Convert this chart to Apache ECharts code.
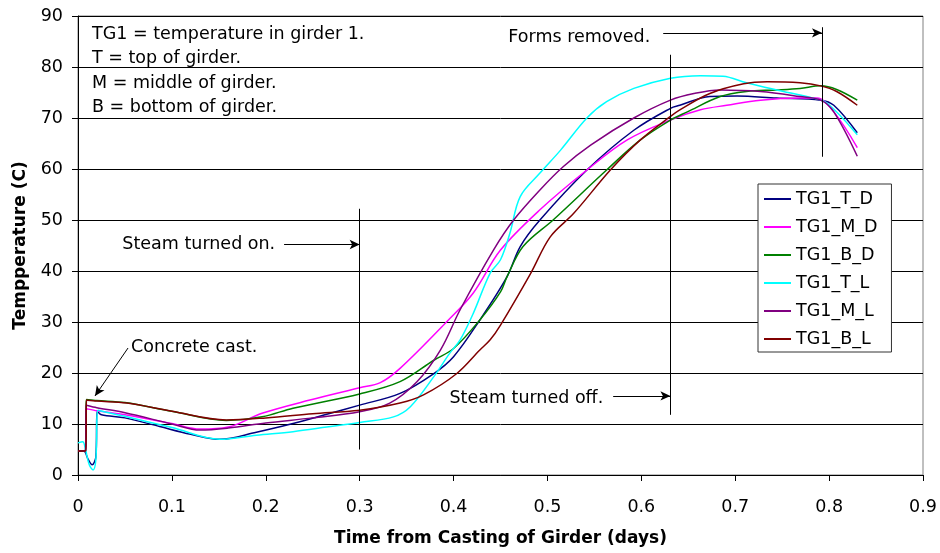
<!DOCTYPE html>
<html>
<head>
<meta charset="utf-8">
<script src="https://cdn.jsdelivr.net/npm/echarts@6/dist/echarts.min.js"></script>
<style>
  html, body { margin: 0; padding: 0; background: #fff; }
  #chart { width: 940px; height: 553px; }
</style>
</head>
<body>
<div id="chart"></div>
<script>
// Girder 1 temperatures, [days since casting, degrees C]
const seriesNames = ['TG1_T_D', 'TG1_M_D', 'TG1_B_D', 'TG1_T_L', 'TG1_M_L', 'TG1_B_L'];
const seriesColors = ['#000080', '#FF00FF', '#008000', '#00FFFF', '#800080', '#800000'];

const tg1TD = [[0,4.7],[0.006,4.7],[0.011,3],[0.015,2],[0.019,3.5],[0.0205,12.5],[0.025,11.8],[0.05,11.2],[0.087,9.5],[0.12,8.0],[0.151,7.0],[0.19,8.4],[0.229,10.1],[0.265,11.9],[0.3,13.7],[0.343,16.0],[0.379,19.9],[0.4,23.2],[0.428,30.4],[0.457,38.9],[0.471,44.8],[0.492,50],[0.542,59.8],[0.592,67.6],[0.631,71.9],[0.641,72.5],[0.673,74.2],[0.702,74.3],[0.744,73.9],[0.791,73.5],[0.805,72.5],[0.83,67.1]];
const tg1MD = [[0,4.7],[0.008,4.8],[0.009,13],[0.02,12.6],[0.05,11.8],[0.1,10.1],[0.13,9.0],[0.16,9.4],[0.196,12.1],[0.247,14.7],[0.3,17.1],[0.322,18.1],[0.343,20.9],[0.393,30.1],[0.421,35.7],[0.45,44.1],[0.492,52],[0.542,59.8],[0.585,65.7],[0.631,69.6],[0.663,71.6],[0.691,72.5],[0.727,73.5],[0.769,73.9],[0.787,73.9],[0.805,71.2],[0.83,64.2]];
const tg1BD = [[0,4.7],[0.008,4.8],[0.009,14.8],[0.02,14.6],[0.05,14.2],[0.1,12.5],[0.158,10.7],[0.196,11.4],[0.229,13.1],[0.3,15.9],[0.343,18.3],[0.379,22.5],[0.4,24.8],[0.428,30.4],[0.45,35.9],[0.457,38.9],[0.474,44.8],[0.506,50],[0.563,59.8],[0.599,65.7],[0.631,69.6],[0.649,71.2],[0.684,74.2],[0.712,75.2],[0.744,75.5],[0.769,75.8],[0.791,76.3],[0.808,75.6],[0.83,73.5]];
const tg1TL = [[0,6.3],[0.005,6.5],[0.008,5],[0.012,2],[0.016,1],[0.019,3],[0.0215,12.7],[0.03,12.3],[0.05,11.5],[0.1,9.3],[0.151,7.0],[0.19,7.8],[0.229,8.5],[0.265,9.4],[0.3,10.3],[0.336,11.4],[0.354,13.4],[0.379,19.3],[0.396,23.9],[0.407,26.5],[0.421,31.7],[0.439,39.6],[0.45,42.2],[0.46,47.4],[0.471,54.6],[0.492,59.2],[0.514,63.7],[0.542,70],[0.563,73.2],[0.592,75.8],[0.631,77.8],[0.663,78.3],[0.687,78.2],[0.712,76.9],[0.744,75.5],[0.783,73.9],[0.798,72.9],[0.83,66.7]];
const tg1ML = [[0,4.7],[0.008,4.8],[0.0085,13.7],[0.02,13.2],[0.05,12.2],[0.1,10.0],[0.13,8.8],[0.16,9.2],[0.2,10.2],[0.25,11.2],[0.3,12.4],[0.332,14.1],[0.361,18.3],[0.386,24.5],[0.407,32.4],[0.4425,44.1],[0.464,50],[0.492,55.9],[0.517,60.5],[0.546,64.7],[0.592,70],[0.631,73.5],[0.656,74.8],[0.684,75.5],[0.727,75.2],[0.769,74.2],[0.791,73.5],[0.805,71.2],[0.83,62.5]];
const tg1BL = [[0,4.7],[0.0085,4.7],[0.009,14.7],[0.02,14.5],[0.052,14.1],[0.1,12.5],[0.158,10.8],[0.2,11.2],[0.25,12.0],[0.3,12.7],[0.343,14.1],[0.368,15.7],[0.4035,19.9],[0.428,24.5],[0.439,26.5],[0.45,29.4],[0.482,39.5],[0.503,46.7],[0.528,51.3],[0.567,59.8],[0.599,65.7],[0.631,70.3],[0.641,71.6],[0.673,74.8],[0.709,76.7],[0.734,77.1],[0.769,76.9],[0.791,76.3],[0.808,75.2],[0.83,72.5]];
const seriesData = [tg1TD, tg1MD, tg1BD, tg1TL, tg1ML, tg1BL];

// Event markers: [time, lower temp, upper temp]
const steamOn = [0.3, 5, 52.2];
const steamOff = [0.631, 11.8, 82.4];
const formsOff = [0.7924, 62.4, 87.8];

// Key text block
const keyLines = ['TG1 = temperature in girder 1.', 'T = top of girder.', 'M = middle of girder.', 'B = bottom of girder.'];
const keyLineTemps = [86.3, 81.6, 76.7, 72.0];

const FONT = 'DejaVu Sans, sans-serif';
const FS = 17.5;

const chart = echarts.init(document.getElementById('chart'), null, { renderer: 'canvas' });

function vline(m) {
  return [{ coord: [m[0], m[1]], symbol: 'none' }, { coord: [m[0], m[2]], symbol: 'none' }];
}
function arrow(from, to) {
  return [{ coord: from, symbol: 'none' }, { coord: to, symbol: 'arrow', symbolSize: [7, 10] }];
}
function note(text, coord, pos) {
  return {
    coord: coord, symbol: 'circle', symbolSize: 0,
    label: { show: true, formatter: text, position: pos, distance: 0, color: '#000', fontSize: FS, fontFamily: FONT }
  };
}

const annotations = {
  markLine: {
    silent: true, animation: false,
    symbol: ['none', 'none'],
    lineStyle: { color: '#000', width: 1, type: 'solid' },
    label: { show: false },
    emphasis: { disabled: true },
    data: [
      vline(steamOn), vline(steamOff), vline(formsOff),
      arrow([0.2195, 45.2], [steamOn[0], 45.2]),
      arrow([0.570, 15.5], [steamOff[0], 15.5]),
      arrow([0.6233, 86.7], [formsOff[0], 86.7]),
      arrow([0.0533, 24.9], [0.0181, 15.5])
    ]
  },
  markPoint: {
    silent: true, animation: false,
    data: [
      note('Steam turned on.', [0.21, 45.3], 'left'),
      note('Steam turned off.', [0.5594, 15.1], 'left'),
      note('Forms removed.', [0.6095, 85.8], 'left'),
      note('Concrete cast.', [0.0565, 25.1], 'right')
    ].concat(keyLines.map((t, i) => note(t, [0.0149, keyLineTemps[i]], 'right')))
  }
};

const series = seriesNames.map((name, i) => Object.assign({
  name: name,
  type: 'line',
  data: seriesData[i],
  symbol: 'none',
  smooth: 0.35,
  color: seriesColors[i],
  lineStyle: { width: 1.5, color: seriesColors[i] },
  animation: false,
  z: 3
}, i === 0 ? annotations : {}));

chart.setOption({
  backgroundColor: '#fff',
  textStyle: { fontFamily: FONT },
  grid: { left: 78, right: 17, top: 16, bottom: 78, show: true, borderColor: '#808080', borderWidth: 1, backgroundColor: 'transparent' },
  legend: {
    orient: 'vertical',
    left: 758, top: 184,
    data: seriesNames,
    icon: 'rect',
    backgroundColor: '#fff',
    borderColor: '#333', borderWidth: 1,
    padding: [5, 14, 3, 6],
    itemWidth: 27, itemHeight: 2, itemGap: 8,
    textStyle: { fontSize: FS, lineHeight: 20, color: '#000', fontFamily: FONT },
    selectedMode: false
  },
  xAxis: {
    type: 'value', min: 0, max: 0.9, interval: 0.1,
    name: 'Time from Casting of Girder (days)', nameLocation: 'middle', nameGap: 55,
    nameTextStyle: { fontSize: 17, fontWeight: 'bold', color: '#000', fontFamily: FONT },
    axisLine: { show: true, onZero: false, lineStyle: { color: '#000', width: 1 } },
    axisTick: { show: true, inside: false, length: 6, lineStyle: { color: '#000' } },
    axisLabel: { fontSize: FS, color: '#000', margin: 23, fontFamily: FONT, formatter: v => String(Math.round(v * 10) / 10) },
    splitLine: { show: false }
  },
  yAxis: {
    type: 'value', min: 0, max: 90, interval: 10,
    name: 'Tempperature (C)', nameLocation: 'middle', nameGap: 49,
    nameTextStyle: { fontSize: 17, fontWeight: 'bold', color: '#000', fontFamily: FONT },
    axisLine: { show: true, lineStyle: { color: '#000', width: 1 } },
    axisTick: { show: true, inside: false, length: 6, lineStyle: { color: '#000' } },
    axisLabel: { fontSize: FS, color: '#000', margin: 15, fontFamily: FONT },
    splitLine: { show: true, lineStyle: { color: '#000', width: 1 } }
  },
  series: series
});
</script>
</body>
</html>
